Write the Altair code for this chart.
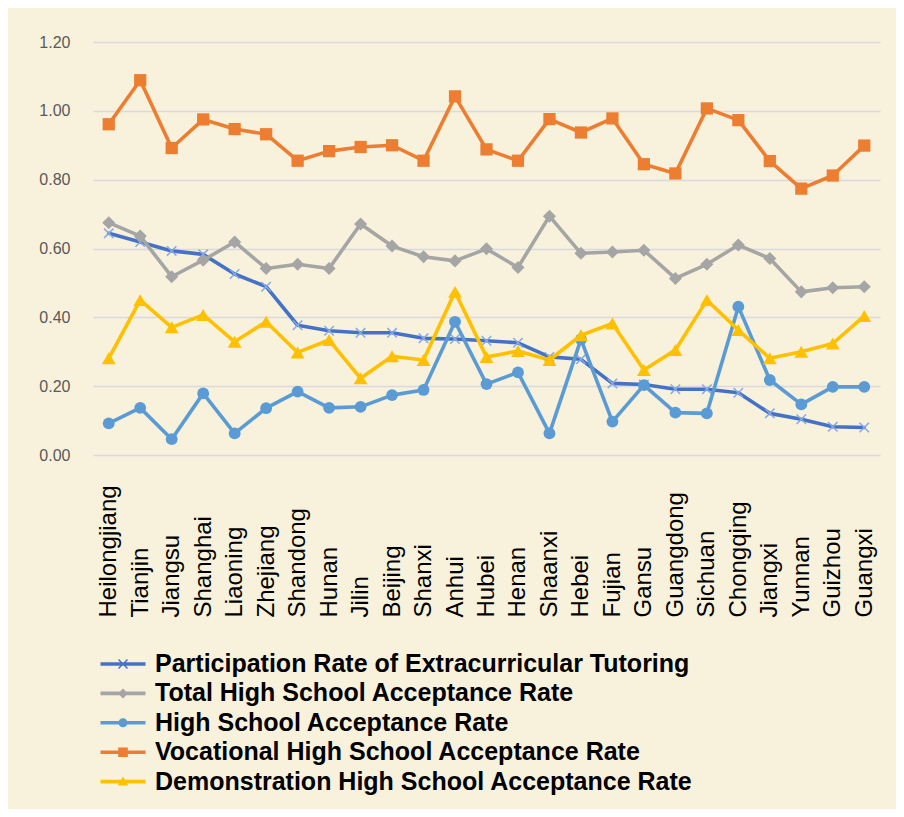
import altair as alt
import pandas as pd

provinces = ["Heilongjiang", "Tianjin", "Jiangsu", "Shanghai", "Liaoning", "Zhejiang",
             "Shandong", "Hunan", "Jilin", "Beijing", "Shanxi", "Anhui", "Hubei", "Henan",
             "Shaanxi", "Hebei", "Fujian", "Gansu", "Guangdong", "Sichuan", "Chongqing",
             "Jiangxi", "Yunnan", "Guizhou", "Guangxi"]

participation = [0.644, 0.619, 0.593, 0.583, 0.526, 0.489, 0.377, 0.361, 0.355, 0.355,
                 0.339, 0.337, 0.332, 0.326, 0.285, 0.278, 0.208, 0.205, 0.191, 0.191,
                 0.181, 0.121, 0.104, 0.082, 0.080]
total_hs = [0.675, 0.636, 0.518, 0.566, 0.619, 0.542, 0.554, 0.542, 0.671, 0.607,
            0.576, 0.564, 0.599, 0.545, 0.694, 0.586, 0.590, 0.595, 0.513, 0.554,
            0.610, 0.571, 0.474, 0.486, 0.489]
high_school = [0.092, 0.137, 0.046, 0.179, 0.063, 0.136, 0.184, 0.137, 0.140, 0.174,
               0.189, 0.387, 0.206, 0.240, 0.063, 0.336, 0.097, 0.203, 0.123, 0.121,
               0.431, 0.218, 0.147, 0.198, 0.198]
vocational = [0.961, 1.089, 0.892, 0.975, 0.947, 0.932, 0.855, 0.883, 0.895, 0.900,
              0.855, 1.042, 0.888, 0.855, 0.976, 0.937, 0.978, 0.845, 0.818, 1.007,
              0.973, 0.854, 0.774, 0.812, 0.899]
demonstration = [0.281, 0.450, 0.371, 0.407, 0.329, 0.387, 0.298, 0.334, 0.223, 0.287,
                 0.276, 0.474, 0.285, 0.302, 0.276, 0.348, 0.382, 0.247, 0.305, 0.450,
                 0.363, 0.281, 0.300, 0.324, 0.404]

series_names = ["Participation Rate of Extracurricular Tutoring",
                "Total High School Acceptance Rate",
                "High School Acceptance Rate",
                "Vocational High School Acceptance Rate",
                "Demonstration High School Acceptance Rate"]
series_values = [participation, total_hs, high_school, vocational, demonstration]
colors = ["#4472C4", "#A5A5A5", "#5B9BD5", "#ED7D31", "#FFC000"]

rows = []
for name, vals in zip(series_names, series_values):
    for p, v in zip(provinces, vals):
        rows.append({"province": p, "value": v, "series": name})
df = pd.DataFrame(rows)

BG = "#F8F1DC"
FONT = "Liberation Sans"

x_enc = alt.X("province:N", sort=provinces,
              scale=alt.Scale(type="point", padding=0.5),
              axis=alt.Axis(title=None, labelAngle=270, labelAlign="left",
                            labelBaseline="middle", labelPadding=162,
                            labelFontSize=24, labelFont=FONT, labelColor="#000000",
                            ticks=False, domain=False, grid=False,
                            labelOverlap=False, labelLimit=0))
y_enc = alt.Y("value:Q", scale=alt.Scale(domain=[0, 1.2], nice=False, zero=True),
              axis=alt.Axis(title=None, values=[0, 0.2, 0.4, 0.6, 0.8, 1.0, 1.2],
                            format=".2f", labelFontSize=16, labelFont=FONT,
                            labelColor="#595959", labelPadding=23, ticks=False,
                            domain=False, grid=True, gridColor="#D9D9E0",
                            gridWidth=1.3))

X_PATH = ("M-1,-0.8L-0.8,-1L0,-0.2L0.8,-1L1,-0.8L0.2,0L1,0.8L0.8,1L0,0.2"
          "L-0.8,1L-1,0.8L-0.2,0Z")
marker_shapes = [X_PATH, "diamond", "circle", "square", "triangle-up"]
marker_sizes = [110, 170, 140, 150, 190]
marker_colors = ["#86A8E4", "#A5A5A5", "#5B9BD5", "#ED7D31", "#FFC000"]

base = alt.Chart(df)
layers = []
for name, col, shp, sz, mcol in zip(series_names, colors, marker_shapes,
                                    marker_sizes, marker_colors):
    sub = base.transform_filter(alt.datum.series == name)
    layers.append(sub.mark_line(strokeWidth=3.6, strokeJoin="round", strokeCap="round",
                                color=col).encode(x=x_enc, y=y_enc))
    layers.append(sub.mark_point(filled=True, shape=shp, size=sz, opacity=1,
                                 color=mcol).encode(x=x_enc, y=y_enc))

line_rect = "M-2.25,-0.18H2.25V0.18H-2.25Z"
legend_paths = [
    line_rect + "M-0.5,-0.4L-0.4,-0.5L0,-0.1L0.4,-0.5L0.5,-0.4L0.1,0L0.5,0.4L0.4,0.5L0,0.1L-0.4,0.5L-0.5,0.4L-0.1,0Z",
    line_rect + "M0,-0.5L0.5,0L0,0.5L-0.5,0Z",
    line_rect + "M-0.45,0A0.45,0.45 0 1,1 0.45,0A0.45,0.45 0 1,1 -0.45,0Z",
    line_rect + "M-0.48,-0.48H0.48V0.48H-0.48Z",
    line_rect + "M0,-0.5L0.52,0.4L-0.52,0.4Z",
]

legend_props = dict(title=None, orient="none", legendX=17.5, legendY=609.5,
                    direction="vertical", labelFontSize=25, labelFont=FONT,
                    labelFontWeight="bold", labelColor="#000000",
                    symbolSize=400, symbolOpacity=1, symbolStrokeWidth=0,
                    labelOffset=19.5, rowPadding=3.4, padding=0, labelLimit=0)

legend_layer = base.mark_point(filled=True, opacity=0, size=10).encode(
    x=x_enc, y=y_enc,
    color=alt.Color("series:N", scale=alt.Scale(domain=series_names, range=colors),
                    legend=alt.Legend(**legend_props)),
    shape=alt.Shape("series:N", scale=alt.Scale(domain=series_names, range=legend_paths),
                    legend=alt.Legend(**legend_props)),
)

chart = alt.layer(*layers, legend_layer).properties(
    width=787, height=413,
    autosize=alt.AutoSizeParams(type="none"),
    padding={"left": 85, "top": 34, "right": 16, "bottom": 354},
    background=BG,
).configure_view(stroke=None, fill=BG)

chart.save("out.html", embed_options={"renderer": "svg", "actions": False})
